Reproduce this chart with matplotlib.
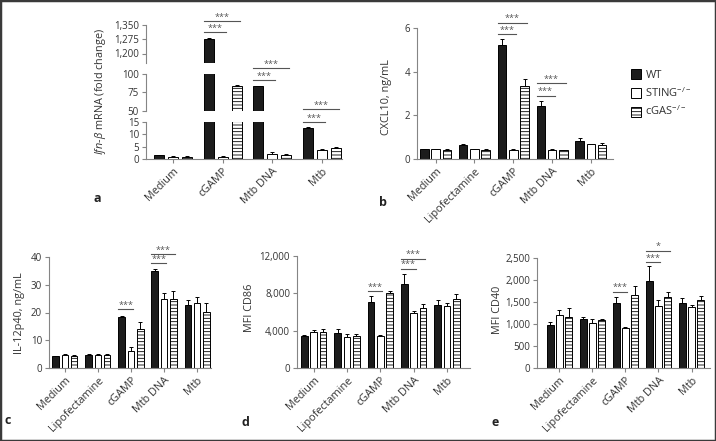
import matplotlib
matplotlib.use("Agg")
import matplotlib.pyplot as plt
from matplotlib.patches import Patch, Rectangle
from matplotlib.ticker import FuncFormatter
import numpy as np

plt.rcParams["font.family"] = ["Open Sans", "DejaVu Sans"]
plt.rcParams["mathtext.fontset"] = "custom"
plt.rcParams["mathtext.rm"] = "Open Sans"
plt.rcParams["mathtext.it"] = "Open Sans:italic"
plt.rcParams["hatch.linewidth"] = 0.6

W, H = 716, 441
TXT = "#333333"
AXC = "#858585"
SIGC = "#555555"

genotypes = ["WT", "STING$^{-/-}$", "cGAS$^{-/-}$"]
fills = ["#1c1c1c", "white", "white"]
hatches = [None, None, "-----"]

# panel a (Ifn-b mRNA, broken axis)
cats_a = ["Medium", "cGAMP", "Mtb DNA", "Mtb"]
ifnb_mean = [[1.5, 1.0, 1.0], [1275, 1.0, 84], [83, 2.0, 1.5], [12.3, 3.8, 4.3]]
ifnb_err = [[0.3, 0.2, 0.2], [6, 0.2, 1.0], [1.0, 0.7, 0.4], [0.5, 0.2, 0.4]]

cats = ["Medium", "Lipofectamine", "cGAMP", "Mtb DNA", "Mtb"]

# panel b
cxcl10_mean = [[0.45, 0.45, 0.42], [0.62, 0.45, 0.42], [5.2, 0.42, 3.35], [2.43, 0.42, 0.40], [0.84, 0.69, 0.64]]
cxcl10_err = [[0.02, 0.03, 0.02], [0.08, 0.02, 0.02], [0.29, 0.02, 0.30], [0.24, 0.02, 0.02], [0.11, 0.01, 0.07]]

# panel c
il12_mean = [[4.2, 4.8, 4.2], [4.8, 4.8, 4.7], [18.5, 6.2, 14.1], [34.9, 24.7, 24.7], [22.7, 23.3, 20.1]]
il12_err = [[0.2, 0.2, 0.4], [0.2, 0.2, 0.3], [0.2, 1.2, 2.4], [0.6, 2.2, 3.2], [1.8, 2.4, 3.2]]

# panel d
cd86_mean = [[3440, 3900, 3900], [3800, 3300, 3410], [7100, 3480, 7990], [8980, 5890, 6460], [6750, 6640, 7420]]
cd86_err = [[60, 180, 290], [390, 320, 280], [600, 60, 250], [1070, 250, 360], [530, 360, 500]]

# panel e
cd40_mean = [[975, 1204, 1166], [1105, 1014, 1090], [1471, 907, 1662], [1982, 1410, 1608], [1471, 1380, 1547]]
cd40_err = [[75, 114, 191], [45, 99, 30], [137, 30, 213], [328, 137, 130], [129, 53, 92]]


def px_rect(l, t, r, b):
    return [l / W, 1 - b / H, (r - l) / W, (b - t) / H]


def style(ax, bottom=True):
    for s in ["top", "right"]:
        ax.spines[s].set_visible(False)
    ax.spines["left"].set_color(AXC)
    ax.spines["left"].set_linewidth(0.8)
    if bottom:
        ax.spines["bottom"].set_color(AXC)
        ax.spines["bottom"].set_linewidth(0.8)
    else:
        ax.spines["bottom"].set_visible(False)
        ax.tick_params(axis="x", bottom=False, labelbottom=False)
    ax.tick_params(colors=AXC, labelcolor=TXT, labelsize=7, length=3, width=0.8, pad=2)
    ax.tick_params(axis="x", labelsize=7.8)
    ax.yaxis.set_major_formatter(FuncFormatter(lambda v, p: f"{int(v):,}"))


def draw_bars(ax, means, errs, width, off):
    x = np.arange(len(means))
    for k in range(3):
        vals = [m[k] for m in means]
        e = [er[k] for er in errs]
        ax.bar(x + (k - 1) * off, vals, width, color=fills[k], edgecolor="black",
               linewidth=0.7, hatch=hatches[k], zorder=2)
        ax.errorbar(x + (k - 1) * off, vals, yerr=[np.zeros(len(vals)), e], fmt="none",
                    ecolor="black", elinewidth=0.7, capsize=1.5, capthick=0.7, zorder=1)


def xlabels(ax, names):
    ax.set_xticks(np.arange(len(names)))
    ax.set_xticklabels(names, rotation=45, ha="right", rotation_mode="anchor")


def sig(ax, i, k, y, label, width, off):
    x0 = i - off - width / 2
    x1 = i + (k - 1) * off + width * 0.3
    ax.plot([x0, x1], [y, y], color=SIGC, lw=0.8, clip_on=False)
    ax.annotate(label, ((x0 + x1) / 2, y), xytext=(0, -0.5), textcoords="offset points",
                ha="center", va="bottom", fontsize=6.5, color=SIGC, annotation_clip=False)


fig = plt.figure(figsize=(W / 100, H / 100), dpi=100)

# ---- panel a: three stacked axes for the broken y axis
wa, oa = 0.2, 0.28
ax_top = fig.add_axes(px_rect(146, 25, 342, 63))
ax_mid = fig.add_axes(px_rect(146, 73.7, 342, 110.7))
ax_bot = fig.add_axes(px_rect(146, 121.7, 342, 159))
for ax, lim, ticks in [(ax_top, (1150, 1350), [1200, 1275, 1350]),
                       (ax_mid, (50, 100), [50, 75, 100]),
                       (ax_bot, (0, 15), [0, 5, 10, 15])]:
    draw_bars(ax, ifnb_mean, ifnb_err, wa, oa)
    ax.set_ylim(*lim)
    ax.set_yticks(ticks)
    ax.set_xlim(-0.54, 3.4)
    style(ax, bottom=(ax is ax_bot))
xlabels(ax_bot, cats_a)
sig(ax_top, 1, 1, 1312, "***", wa, oa)
sig(ax_top, 1, 2, 1372, "***", wa, oa)
sig(ax_mid, 2, 1, 91.5, "***", wa, oa)
sig(ax_mid, 2, 2, 108, "***", wa, oa)
sig(ax_bot, 3, 1, 14.8, "***", wa, oa)
sig(ax_bot, 3, 2, 20.1, "***", wa, oa)
fig.text(100 / W, 1 - 92 / H, r"$\mathit{Ifn}$-$\mathit{β}$ mRNA (fold change)", rotation=90,
         ha="center", va="center", fontsize=7.8, color=TXT)

# ---- panel b
wb, ob = 0.22, 0.29
ax_b = fig.add_axes(px_rect(417, 28, 613, 159))
draw_bars(ax_b, cxcl10_mean, cxcl10_err, wb, ob)
ax_b.set_ylim(0, 6)
ax_b.set_yticks([0, 2, 4, 6])
ax_b.set_xlim(-0.48, 4.57)
style(ax_b)
xlabels(ax_b, cats)
sig(ax_b, 2, 1, 5.72, "***", wb, ob)
sig(ax_b, 2, 2, 6.25, "***", wb, ob)
sig(ax_b, 3, 1, 2.9, "***", wb, ob)
sig(ax_b, 3, 2, 3.47, "***", wb, ob)
fig.text(387 / W, 1 - 97 / H, "CXCL10, ng/mL", rotation=90, ha="center", va="center",
         fontsize=7.8, color=TXT)

# ---- panels c, d, e
wc, oc = 0.2, 0.28
ax_c = fig.add_axes(px_rect(49, 257, 211, 368))
draw_bars(ax_c, il12_mean, il12_err, wc, oc)
ax_c.set_ylim(0, 40)
ax_c.set_yticks([0, 10, 20, 30, 40])
ax_c.set_xlim(-0.48, 4.42)
style(ax_c)
xlabels(ax_c, cats)
sig(ax_c, 2, 1, 21.3, "***", wc, oc)
sig(ax_c, 3, 1, 37.9, "***", wc, oc)
sig(ax_c, 3, 2, 41.1, "***", wc, oc)
fig.text(20 / W, 1 - 313 / H, "IL-12p40, ng/mL", rotation=90, ha="center", va="center",
         fontsize=7.8, color=TXT)

ax_d = fig.add_axes(px_rect(297, 256, 470, 368))
draw_bars(ax_d, cd86_mean, cd86_err, wc, oc)
ax_d.set_ylim(0, 12000)
ax_d.set_yticks([0, 4000, 8000, 12000])
ax_d.set_xlim(-0.5, 4.69)
style(ax_d)
xlabels(ax_d, cats)
sig(ax_d, 2, 1, 8270, "***", wc, oc)
sig(ax_d, 3, 1, 10660, "***", wc, oc)
sig(ax_d, 3, 2, 11720, "***", wc, oc)
fig.text(249 / W, 1 - 308 / H, "MFI CD86", rotation=90, ha="center", va="center",
         fontsize=7.8, color=TXT)

ax_e = fig.add_axes(px_rect(537, 258, 710, 368))
draw_bars(ax_e, cd40_mean, cd40_err, wc, oc)
ax_e.set_ylim(0, 2500)
ax_e.set_yticks([0, 500, 1000, 1500, 2000, 2500])
ax_e.set_xlim(-0.68, 4.56)
style(ax_e)
xlabels(ax_e, cats)
sig(ax_e, 2, 1, 1734, "***", wc, oc)
sig(ax_e, 3, 1, 2408, "***", wc, oc)
sig(ax_e, 3, 2, 2667, "*", wc, oc)
fig.text(498 / W, 1 - 310 / H, "MFI CD40", rotation=90, ha="center", va="center",
         fontsize=7.8, color=TXT)

# panel letters
for letter, (lx, ly) in zip("abcde", [(97, 198), (383, 203), (8, 420), (245, 422), (495, 422)]):
    fig.text(lx / W, 1 - ly / H, letter, ha="center", va="center", fontsize=9,
             fontweight="bold", color="#222222")

# legend
handles = [Patch(facecolor=fills[k], edgecolor="black", linewidth=0.7, hatch=hatches[k]) for k in range(3)]
fig.legend(handles, genotypes, loc="upper left", bbox_to_anchor=(631 / W, 1 - 69 / H),
           frameon=False, fontsize=8, handlelength=0.9, handleheight=1.0,
           handletextpad=0.4, labelspacing=0.45, borderpad=0, borderaxespad=0, labelcolor=TXT)

fig.add_artist(Rectangle((0, 0), 1, 1, transform=fig.transFigure, fill=False,
                         edgecolor="#3a3a3a", linewidth=2.5))

fig.savefig("out.png", dpi=100)
